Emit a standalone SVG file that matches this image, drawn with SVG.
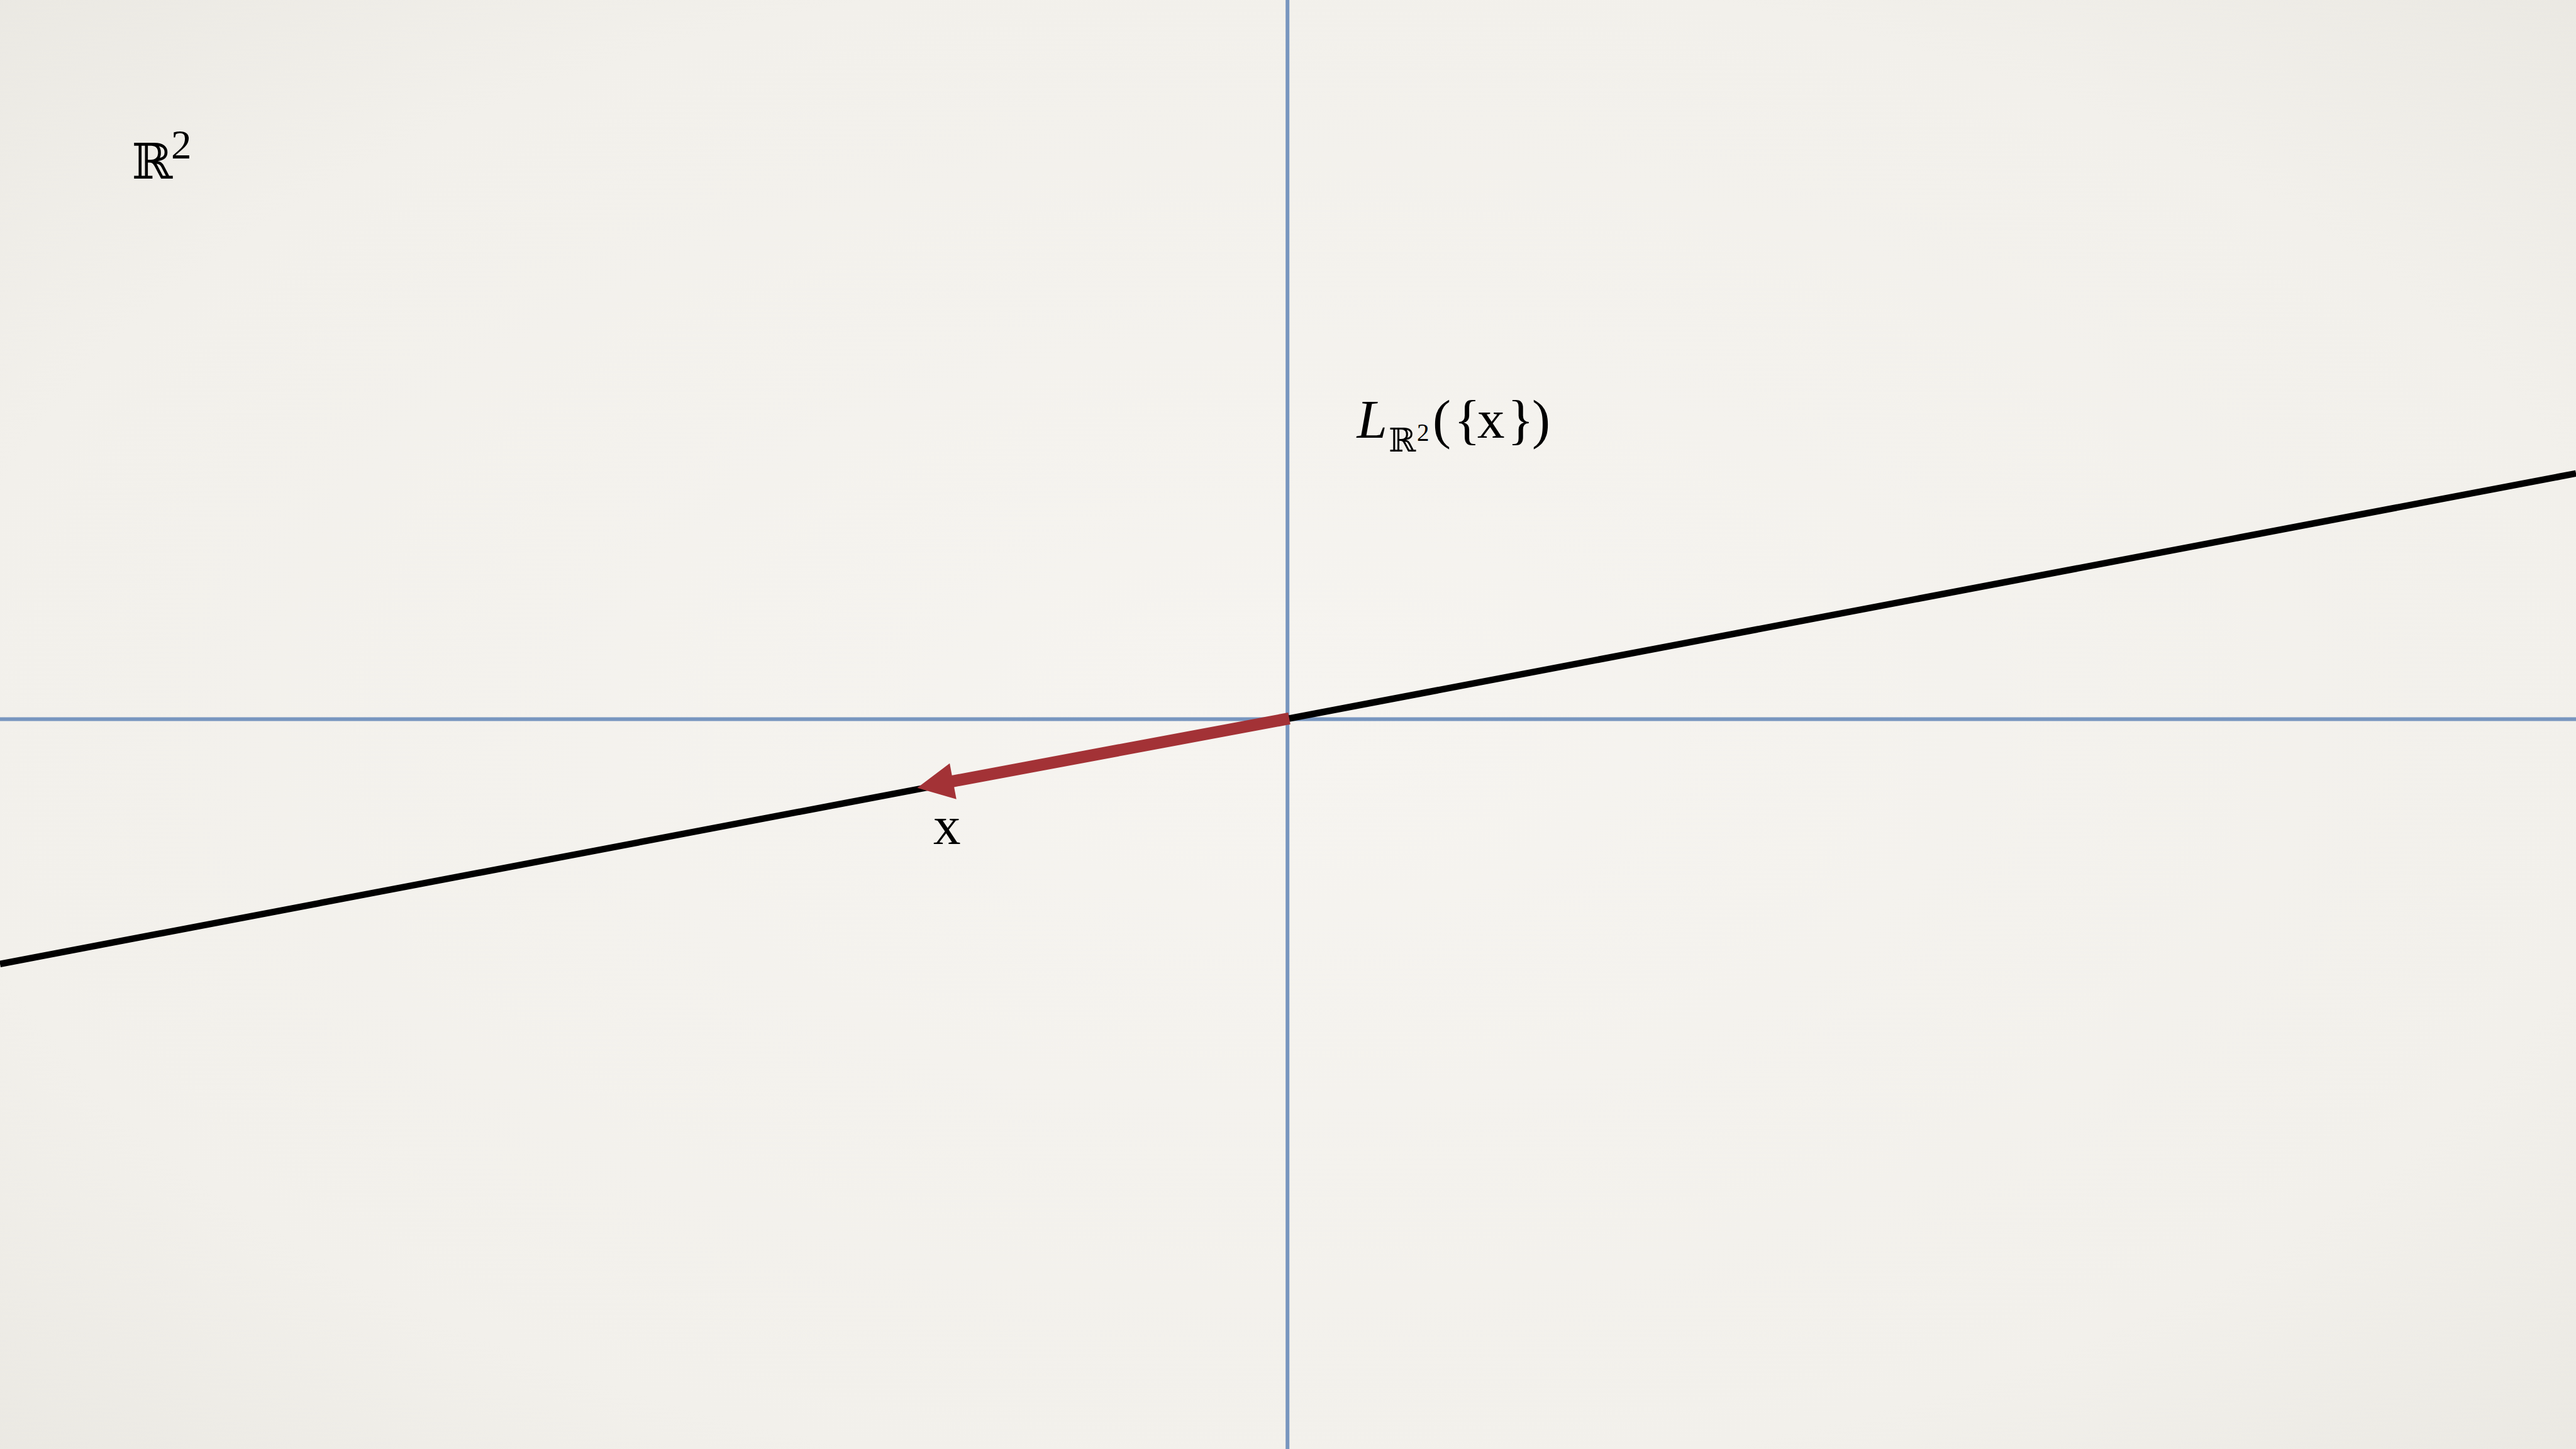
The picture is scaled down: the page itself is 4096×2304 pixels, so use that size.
<svg xmlns="http://www.w3.org/2000/svg" width="4096" height="2304" viewBox="0 0 4096 2304">
<defs>
<radialGradient id="paper" cx="50%" cy="50%" r="75%">
<stop offset="0" stop-color="#f6f4f0"/>
<stop offset="0.7" stop-color="#f2f0eb"/>
<stop offset="1" stop-color="#e9e7e1"/>
</radialGradient>
<style>
.axis{stroke:#7896bf;stroke-width:6;fill:none}
.span{stroke:#000;stroke-width:10.4;fill:none}
.vec{stroke:#a33236;stroke-width:19;fill:none;stroke-linecap:butt}
.head{fill:#a33236}
.t{font-family:"Liberation Serif","Times New Roman",serif;fill:#000}
.bb{font-family:"DejaVu Serif","DejaVu Sans",serif;fill:#000}
</style>
</defs>
<rect id="background" x="0" y="0" width="4096" height="2304" fill="url(#paper)"/>
<g id="axes">
<line id="y-axis" class="axis" x1="2047.2" y1="0" x2="2047.2" y2="2304"/>
<line id="x-axis" class="axis" x1="0" y1="1143.6" x2="4096" y2="1143.6"/>
</g>
<g id="span-line">
<line class="span" x1="0" y1="1532.8" x2="4096" y2="752.8"/>
</g>
<g id="connectors">
<line id="vector-x" class="vec" x1="2050" y1="1142.4" x2="1512" y2="1242.8"/>
<polygon class="head" points="1458.4,1252.8 1510.1,1213.7 1520.7,1270.7"/>
</g>
<g id="label-R2">
<text class="bb" x="209.6" y="284" font-size="78">ℝ</text>
<text class="t" x="272" y="252" font-size="65">2</text>
</g>
<g id="label-span">
<text class="t" x="2157.6" y="696" font-size="87" font-style="italic">L</text>
<text class="bb" x="2208" y="717.6" font-size="52">ℝ</text>
<text class="t" x="2253" y="700.8" font-size="39">2</text>
<text class="t" x="2278" y="696" font-size="87">(</text>
<text class="t" x="2312" y="696" font-size="87">{</text>
<text class="t" x="2349" y="696" font-size="87">x</text>
<text class="t" x="2397" y="696" font-size="87">}</text>
<text class="t" x="2436" y="696" font-size="87">)</text>
</g>
<g id="label-x">
<text class="t" x="1484" y="1342.4" font-size="87">x</text>
</g>
</svg>
